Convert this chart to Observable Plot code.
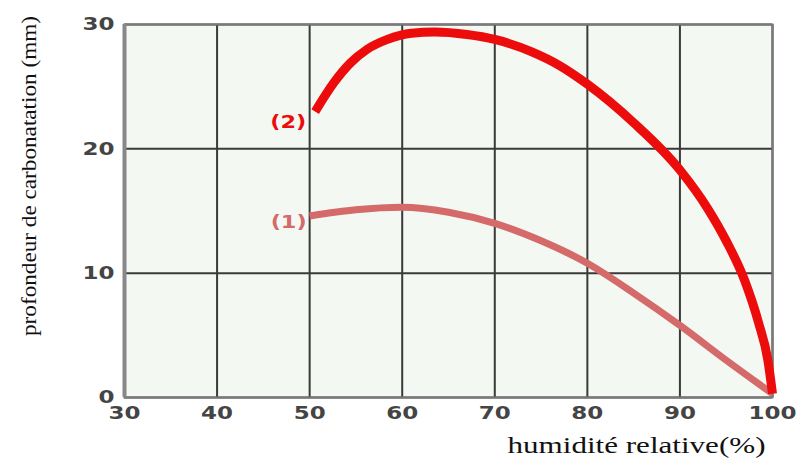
<!DOCTYPE html>
<html>
<head>
<meta charset="utf-8">
<script src="https://cdn.jsdelivr.net/npm/d3@7"></script>
<script src="https://cdn.jsdelivr.net/npm/@observablehq/plot@0.6"></script>
<style>
  html, body { margin: 0; padding: 0; background: #fff; }
  #chart svg { display: block; }
</style>
</head>
<body>
<div id="chart"></div>
<script>
const xTicks = [30, 40, 50, 60, 70, 80, 90, 100];
const yTicks = [0, 10, 20, 30];
const xTitle = "humidité relative(%)";
const yTitle = "profondeur de carbonatation (mm)";

// Curve (1)
const hum1 = [50, 55, 60, 65, 70, 75, 80, 85, 90, 95, 100];
const depth1 = [14.6, 15.1, 15.3, 14.9, 14.0, 12.6, 10.8, 8.4, 5.8, 3.0, 0.3];
// Curve (2)
const hum2 = [50.6, 52.6, 54.4, 56.2, 58.4, 61, 63.5, 67, 70, 74, 77, 80, 85, 90, 93, 95, 97, 98.5, 99.5, 100];
const depth2 = [23.0, 25.3, 26.9, 28.0, 28.8, 29.3, 29.4, 29.2, 28.8, 27.8, 26.7, 25.2, 22.1, 18.3, 15.2, 12.6, 9.4, 6.0, 3.0, 0.3];

const seriesNames = ["(1)", "(2)"];
const seriesColors = ["#d46a6a", "#ec0c0c"];

const s1 = hum1.map((h, i) => ({x: h, y: depth1[i]}));
const s2 = hum2.map((h, i) => ({x: h, y: depth2[i]}));

const tickFont = {fontSize: 18, fontWeight: "bold", fontFamily: "DejaVu Sans", fill: "#444"};

const chart = Plot.plot({
  width: 804,
  height: 466,
  marginLeft: 124,
  marginRight: 32,
  marginTop: 24,
  marginBottom: 69,
  x: {domain: [30, 100]},
  y: {domain: [0, 30]},
  style: {background: "#fff"},
  marks: [
    Plot.frame({fill: "#f3f8f3", stroke: null}),
    Plot.ruleX(xTicks, {stroke: "#3a3a3a", strokeWidth: 2}),
    Plot.ruleY(yTicks, {stroke: "#3a3a3a", strokeWidth: 2}),
    Plot.frame({stroke: "#7a7a7a", strokeWidth: 2}),
    Plot.ruleX([30], {stroke: "#888", strokeWidth: 4}),
    Plot.axisX({ticks: xTicks, tickSize: 0, tickPadding: 9, ...tickFont, label: null, className: "tk"}),
    Plot.axisY({ticks: yTicks, tickSize: 0, tickPadding: 10, ...tickFont, label: null, className: "tk"}),
    Plot.line(s1, {x: "x", y: "y", stroke: seriesColors[0], strokeWidth: 7, curve: "monotone-x", strokeLinecap: "butt"}),
    Plot.line(s2, {x: "x", y: "y", stroke: seriesColors[1], strokeWidth: 9, curve: "monotone-x", strokeLinecap: "butt"}),
    Plot.text([s1[0]], {x: "x", y: "y", text: () => seriesNames[0], textAnchor: "end", dx: -3, dy: 7,
      fill: seriesColors[0], fontWeight: "bold", fontSize: 17, fontFamily: "DejaVu Sans", className: "lbl"}),
    Plot.text([s2[0]], {x: "x", y: "y", text: () => seriesNames[1], textAnchor: "end", dx: -9, dy: 11,
      fill: seriesColors[1], fontWeight: "bold", fontSize: 17, fontFamily: "DejaVu Sans", className: "lbl"}),
    Plot.text([xTitle], {frameAnchor: "bottom", dx: 188, dy: 55, fontSize: 23,
      fontFamily: "Liberation Serif", fill: "#111", text: d => d, className: "xt"}),
    Plot.text([yTitle], {frameAnchor: "left", textAnchor: "middle", dx: -95, dy: -35, rotate: -90, fontSize: 21,
      fontFamily: "Liberation Serif", fill: "#111", text: d => d, className: "yt"})
  ]
});
document.getElementById("chart").appendChild(chart);

// stretch texts horizontally like the reference image
const svg = d3.select(chart);
svg.selectAll(".tk text").each(function() {
  const n = this.textContent.length;
  d3.select(this).attr("textLength", 16 * n).attr("lengthAdjust", "spacingAndGlyphs");
});
svg.selectAll(".lbl text").attr("textLength", 36).attr("lengthAdjust", "spacingAndGlyphs");
svg.selectAll(".xt text").attr("textLength", 258).attr("lengthAdjust", "spacingAndGlyphs");
svg.selectAll(".yt text").attr("textLength", 320).attr("lengthAdjust", "spacingAndGlyphs");
</script>
</body>
</html>
